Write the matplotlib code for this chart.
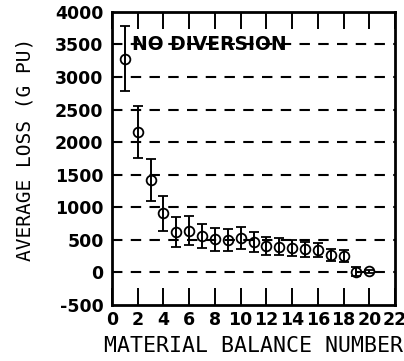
import matplotlib.pyplot as plt

# material balance number vs average loss, with error bars
balance = [1, 2, 3, 4, 5, 6, 7, 8, 9, 10, 11, 12, 13, 14, 15, 16, 17, 18, 19, 20]
avg_loss = [3280, 2150, 1420, 910, 620, 640, 560, 510, 500, 530,
            470, 405, 395, 380, 355, 345, 270, 255, 10, 20]
err = [500, 400, 320, 270, 230, 220, 190, 180, 170, 170,
       150, 140, 130, 120, 110, 100, 90, 90, 70, 25]

grid_levels = [0, 500, 1000, 1500, 2000, 2500, 3000, 3500]
xticks = list(range(0, 23, 2))
yticks = list(range(-500, 4001, 500))

plt.rcParams['font.family'] = 'DejaVu Sans'
plt.rcParams['font.weight'] = 'bold'

fig = plt.figure(figsize=(4.04, 3.61), dpi=100)
ax = fig.add_axes([0.277, 0.155, 0.701, 0.812])

for lvl in grid_levels:
    ax.axhline(lvl, color='black', lw=1.5, ls=(0, (5, 4)), zorder=1)

ax.errorbar(balance, avg_loss, yerr=err, fmt='o', mfc='none', mec='black',
            ms=7, mew=1.3, ecolor='black', elinewidth=1.4, capsize=3.5,
            capthick=1.8, color='black', zorder=3)

ax.text(1.55, 3500, 'NO DIVERSION', fontsize=13.5, fontweight='bold',
        va='center', ha='left', zorder=2)

ax.set_xlim(0, 22)
ax.set_ylim(-500, 4000)
ax.set_xticks(xticks)
ax.set_xticklabels([str(t) for t in xticks], fontsize=12.5)
ax.set_yticks(yticks)
ax.set_yticklabels([str(t) for t in yticks], fontsize=12.5)
ax.tick_params(axis='x', direction='in', length=12, width=1.4, top=True, pad=4)
ax.tick_params(axis='y', direction='in', length=0, pad=6)
for s in ax.spines.values():
    s.set_linewidth(2)

ax.set_xlabel('MATERIAL BALANCE NUMBER', fontsize=15.5, fontweight='normal',
              family='DejaVu Sans Mono', labelpad=5)
ax.set_ylabel('AVERAGE LOSS (G PU)', fontsize=14, fontweight='normal',
              family='DejaVu Sans Mono')
ax.yaxis.set_label_coords(-0.275, 0.53)

plt.savefig('out.png', dpi=100)
